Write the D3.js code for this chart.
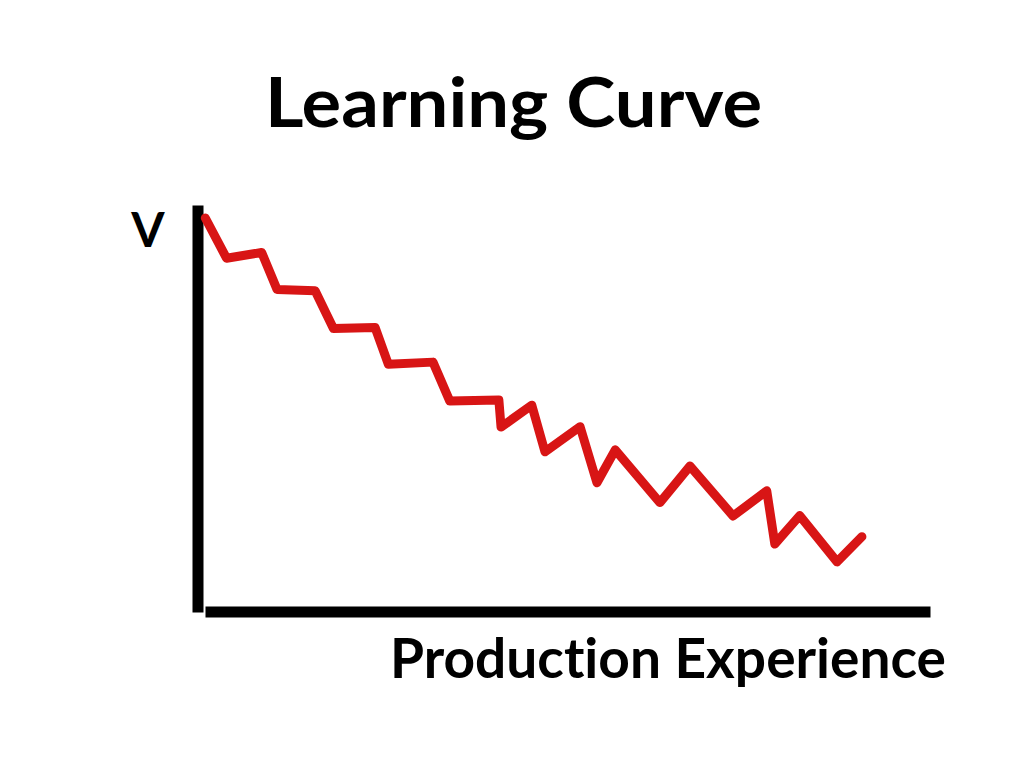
<!DOCTYPE html>
<html>
<head>
<meta charset="utf-8">
<script src="https://cdn.jsdelivr.net/npm/d3@7/dist/d3.min.js"></script>
<style>
  html, body { margin: 0; padding: 0; background: #fff; }
  svg { display: block; }
  text { font-family: "Lato", "Open Sans", sans-serif; font-weight: 700; fill: #000; font-variant-ligatures: none; font-feature-settings: "liga" 0; }
</style>
</head>
<body>
<svg id="chart" width="1024" height="768"></svg>
<script>
// Data (production experience, cost per unit)
const experience = [1.0, 3.9, 8.7, 10.8, 16.0, 18.5, 24.2, 26.0, 32.1, 34.4, 41.1, 41.4, 45.6, 47.4, 52.2, 54.5, 57.0, 58.3, 63.1, 67.2, 73.1, 77.7, 78.8, 82.2, 87.3, 90.7];
const cost       = [96.8, 86.9, 88.3, 79.2, 78.9, 69.6, 69.8, 60.8, 61.3, 51.7, 52.0, 45.3, 50.7, 39.2, 45.4, 31.6, 39.7, 36.9, 26.7, 35.7, 23.4, 29.6, 16.5, 23.5, 12.1, 18.3];
const titleText = "Learning Curve";
const yLabel = "V";
const xLabel = "Production Experience";

const svg = d3.select("#chart");

const x = d3.scaleLinear().domain([0, 100]).range([198, 930]);
const y = d3.scaleLinear().domain([0, 100]).range([611, 205]);

// Title
svg.append("text")
  .attr("x", 265).attr("y", 127)
  .attr("font-size", 68)
  .attr("textLength", 497)
  .attr("lengthAdjust", "spacingAndGlyphs")
  .text(titleText);

// Y axis (thick bar, no ticks)
const yAxis = svg.append("g")
  .attr("transform", "translate(197.5,0)")
  .call(d3.axisLeft(d3.scaleLinear().domain([0, 100]).range([612, 205])).ticks(0).tickSizeOuter(0));
yAxis.select(".domain").attr("stroke", "#000").attr("stroke-width", 11);

// X axis (thick bar, no ticks)
const xAxis = svg.append("g")
  .attr("transform", "translate(0,611.5)")
  .call(d3.axisBottom(d3.scaleLinear().domain([0, 100]).range([205, 930])).ticks(0).tickSizeOuter(0));
xAxis.select(".domain").attr("stroke", "#000").attr("stroke-width", 11);

// Axis labels
svg.append("text")
  .attr("x", 148).attr("y", 247)
  .attr("text-anchor", "middle")
  .attr("font-size", 48)
  .text(yLabel);

svg.append("text")
  .attr("x", 390).attr("y", 678)
  .attr("font-size", 55)
  .attr("textLength", 556)
  .attr("lengthAdjust", "spacingAndGlyphs")
  .text(xLabel);

// Learning curve line
const pts = experience.map((e, i) => [e, cost[i]]);
const line = d3.line().x(d => x(d[0])).y(d => y(d[1]));
svg.append("path")
  .datum(pts)
  .attr("d", line)
  .attr("fill", "none")
  .attr("stroke", "#d81515")
  .attr("stroke-width", 9)
  .attr("stroke-linejoin", "round")
  .attr("stroke-linecap", "round");
</script>
</body>
</html>
